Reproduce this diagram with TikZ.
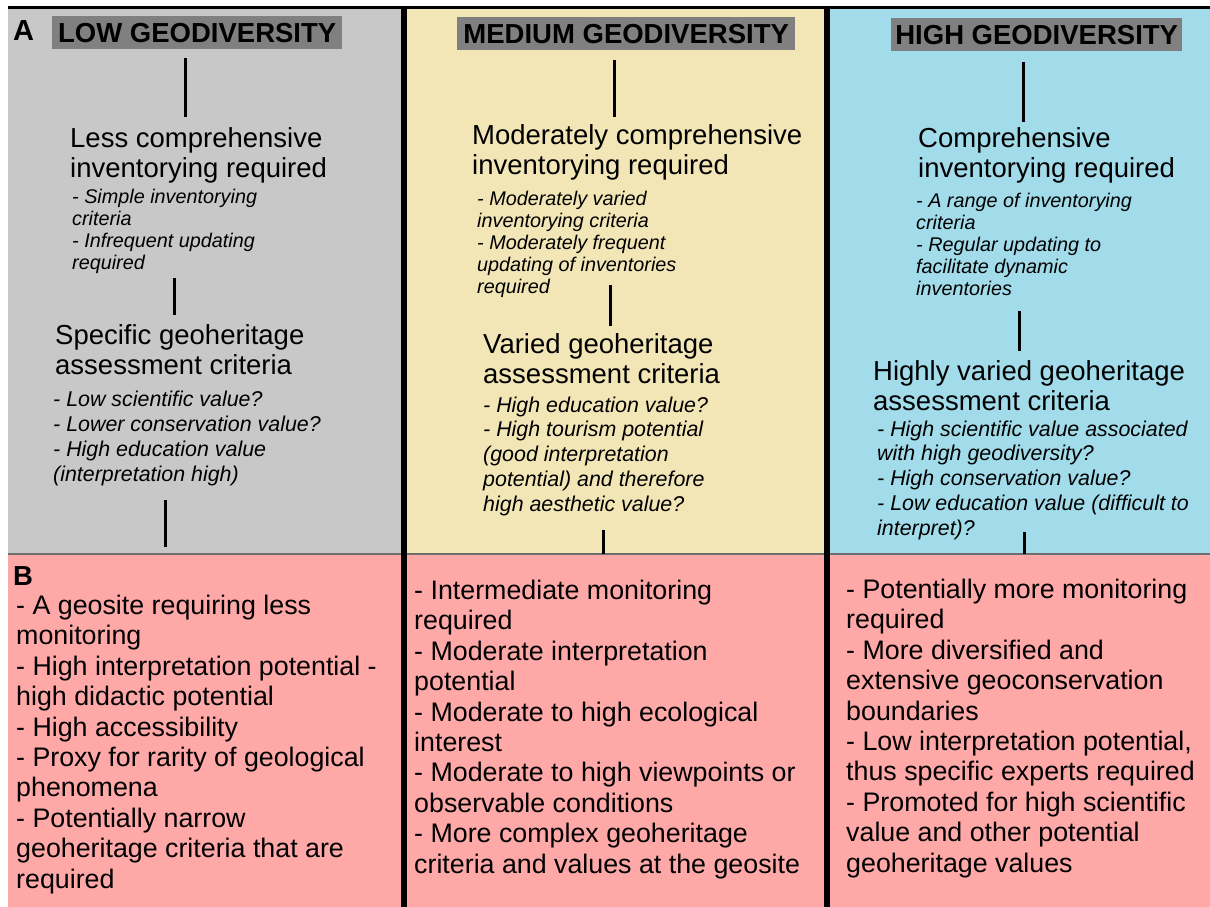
\documentclass[tikz,border=0pt]{standalone}
\usepackage{fontspec}
\setmainfont{Liberation Sans}
\usetikzlibrary{positioning}
\definecolor{lowgrey}{HTML}{C8C8C8}
\definecolor{medyellow}{HTML}{F2E6B6}
\definecolor{highblue}{HTML}{A2DCEA}
\definecolor{monpink}{HTML}{FFA8A8}
\definecolor{headgrey}{HTML}{808080}
\definecolor{rulegrey}{HTML}{6E6E6E}

\begin{document}
\begin{tikzpicture}[x=1bp,y=-1bp,
  vbar/.style={line width=3bp,black},
  headbox/.style={anchor=north west,fill=headgrey,inner sep=0pt,minimum height=33bp,
    text height=20bp,text depth=0pt,font=\fontsize{27.5bp}{30bp}\selectfont\bfseries},
  bigtxt/.style={anchor=base west,inner sep=0pt,align=left,font=\fontsize{27.5bp}{30bp}\selectfont},
  invlist/.style={anchor=base west,inner sep=0pt,align=left,font=\fontsize{19.8bp}{21.9bp}\selectfont\itshape},
  asslist/.style={anchor=base west,inner sep=0pt,align=left,font=\fontsize{21.4bp}{24.7bp}\selectfont\itshape},
  montxt/.style={anchor=base west,inner sep=0pt,align=left,font=\fontsize{26.8bp}{30.4bp}\selectfont}]

\useasboundingbox (0,0) rectangle (1210,907);
\fill[white] (0,0) rectangle (1210,907);

% panels
\fill[lowgrey] (8,8) rectangle (404,554);
\fill[medyellow] (404,8) rectangle (826.5,554);
\fill[highblue] (826.5,8) rectangle (1210,554);
\fill[monpink] (8,554) rectangle (1210,907);
\draw[rulegrey,line width=1.5bp] (8,554) -- (1210,554);
\draw[black,line width=3bp] (8,7.5) -- (1210,7.5);
\draw[black,line width=6bp] (404,6) -- (404,907);
\draw[black,line width=6bp] (826.5,6) -- (826.5,907);

% A: low geodiversity (base = last line)
\node[anchor=base west,inner sep=0pt,font=\fontsize{29bp}{30bp}\selectfont\bfseries] (labA) at (13,40) {A};
\node[headbox,minimum width=290bp] (lowHead) at (52,16) {LOW GEODIVERSITY};
\node[bigtxt] (lowInv) at (70,177) {Less comprehensive\\inventorying required};
\node[invlist] (lowInvList) at (72,269) {- Simple inventorying\\criteria\\- Infrequent updating\\required};
\node[bigtxt] (lowAss) at (55,374) {Specific geoheritage\\assessment criteria};
\node[asslist] (lowAssList) at (53,481) {- Low scientific value?\\- Lower conservation value?\\- High education value\\(interpretation high)};

% medium geodiversity
\node[headbox,minimum width=338bp] (medHead) at (457,17) {MEDIUM GEODIVERSITY};
\node[bigtxt] (medInv) at (472,174) {Moderately comprehensive\\inventorying required};
\node[invlist] (medInvList) at (477,293) {- Moderately varied\\inventorying criteria\\- Moderately frequent\\updating of inventories\\required};
\node[bigtxt] (medAss) at (483,383) {Varied geoheritage\\assessment criteria};
\node[asslist] (medAssList) at (483,511) {- High education value?\\- High tourism potential\\(good interpretation\\potential) and therefore\\high aesthetic value?};

% high geodiversity
\node[headbox,minimum width=291bp] (highHead) at (891,18) {HIGH GEODIVERSITY};
\node[bigtxt] (highInv) at (918,177) {Comprehensive\\inventorying required};
\node[invlist] (highInvList) at (916,295) {- A range of inventorying\\criteria\\- Regular updating to\\facilitate dynamic\\inventories};
\node[bigtxt] (highAss) at (873,410) {Highly varied geoheritage\\assessment criteria};
\node[asslist] (highAssList) at (877,535) {- High scientific value associated\\with high geodiversity?\\- High conservation value?\\- Low education value (difficult to\\interpret)?};

% links
\coordinate (l1) at (185,58);  \coordinate (l2) at (185,117);
\coordinate (l3) at (174,278); \coordinate (l4) at (174,315);
\coordinate (l5) at (165,500); \coordinate (l6) at (165,547);
\coordinate (m1) at (614,60);  \coordinate (m2) at (614,117);
\coordinate (m3) at (610,285); \coordinate (m4) at (610,326);
\coordinate (m5) at (603,530); \coordinate (m6) at (603,554);
\coordinate (h1) at (1023,62); \coordinate (h2) at (1023,122);
\coordinate (h3) at (1019,311); \coordinate (h4) at (1019,351);
\coordinate (h5) at (1024,532); \coordinate (h6) at (1024,554);
\foreach \a/\b in {l1/l2,l3/l4,l5/l6,m1/m2,m3/m4,m5/m6,h1/h2,h3/h4,h5/h6}
  \draw[vbar] (\a) -- (\b);

% B: monitoring
\node[anchor=base west,inner sep=0pt,font=\fontsize{27.5bp}{30bp}\selectfont\bfseries] (labB) at (13,585) {B};
\node[montxt] (lowMon) at (16,888) {- A geosite requiring less\\monitoring\\- High interpretation potential -\\high didactic potential\\- High accessibility\\- Proxy for rarity of geological\\phenomena\\- Potentially narrow\\geoheritage criteria that are\\required};
\node[montxt] (medMon) at (414,873) {- Intermediate monitoring\\required\\- Moderate interpretation\\potential\\- Moderate to high ecological\\interest\\- Moderate to high viewpoints or\\observable conditions\\- More complex geoheritage\\criteria and values at the geosite};
\node[montxt] (highMon) at (846,872) {- Potentially more monitoring\\required\\- More diversified and\\extensive geoconservation\\boundaries\\- Low interpretation potential,\\thus specific experts required\\- Promoted for high scientific\\value and other potential\\geoheritage values};
\end{tikzpicture}
\end{document}
